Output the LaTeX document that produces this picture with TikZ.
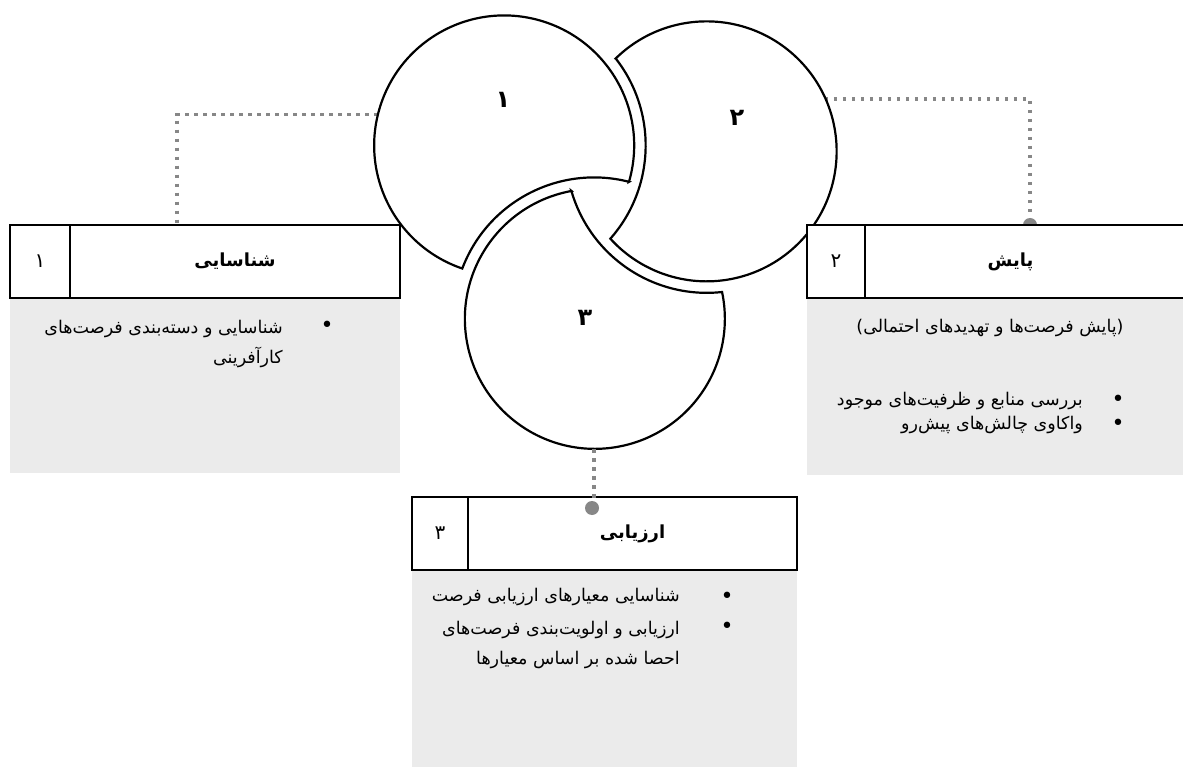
\documentclass[tikz,border=0pt]{standalone}
\usepackage{fontspec}
\newfontfamily\fa[Script=Arabic]{DejaVu Sans}
\TeXXeTstate=1
\usetikzlibrary{%
  backgrounds,
  positioning
}
\definecolor{dotgray}{RGB}{135,135,135}
\definecolor{panelgray}{RGB}{235,235,235}
\newcommand{\rtl}[1]{\beginR #1\endR}

\tikzset{
  headcell/.style={draw=black, line width=2pt, fill=white, minimum height=73pt,
                   inner sep=0pt, outer sep=0pt},
  panel/.style={fill=panelgray, inner sep=0pt, outer sep=0pt, anchor=north west},
  hub/.style={circle, minimum size=260pt, inner sep=0pt, outer sep=0pt},
  lobe/.style={draw=black, line width=2.2pt, fill=white},
  link/.style={draw=dotgray, line width=3.5pt, dash pattern=on 3.5pt off 5.5pt},
  linkdot/.style={circle, fill=dotgray, minimum size=14pt, inner sep=0pt},
  numfont/.style={font=\fa\fontsize{20}{22}\selectfont},
  titlefont/.style={font=\fa\bfseries\fontsize{18}{20}\selectfont},
  lobefont/.style={font=\fa\bfseries\fontsize{24}{26}\selectfont, inner sep=0pt},
  itemtext/.style={font=\fa\fontsize{17.5}{30}\selectfont, align=right, inner sep=0pt},
  bulletmark/.style={font=\fa\fontsize{22}{22}\selectfont, inner sep=0pt},
}

\begin{document}
\begin{tikzpicture}[x=1pt, y=1pt]
  \useasboundingbox (0,0) rectangle (1183,-767) ;

  % the three bitten circles
  \node [hub] (c1) at (504,-146) {} ;
  \node [hub] (c2) at (706,-152) {} ;
  \node [hub] (c3) at (594,-319) {} ;

  \draw [lobe] (c1.-16.25) arc [start angle=-16.25, end angle=251.21, radius=130pt]
                           arc [start angle=159.27, end angle=75.69, radius=141pt] -- cycle ;
  \draw [lobe] (c2.134.40) arc [start angle=134.40, end angle=-137.80, radius=130pt]
                           arc [start angle=-41.44, end angle=38.04, radius=141pt] -- cycle ;
  \draw [lobe] (c3.100.39) arc [start angle=100.39, end angle=371.91, radius=130pt]
                           arc [start angle=276.19, end angle=196.11, radius=141pt] -- cycle ;

  \node [lobefont] (l1) at (503,-100) {۱} ;
  \node [lobefont] (l2) at (737,-118) {۲} ;
  \node [lobefont] (l3) at (585,-318) {۳} ;

  % panels
  \node [panel, minimum width=390pt, minimum height=175pt] (p1) at (10,-298) {} ;
  \node [panel, minimum width=383pt, minimum height=177pt] (p2) at (807,-298) {} ;
  \node [panel, minimum width=385pt, minimum height=200pt] (p3) at (412,-570) {} ;

  % headers
  \node [headcell, numfont, minimum width=60pt, anchor=south west] (n1) at (p1.north west) {۱} ;
  \node [headcell, titlefont, minimum width=330pt, right=0pt of n1] (h1) {\rtl{شناسایی}} ;
  \node [headcell, numfont, minimum width=58pt, anchor=south west] (n2) at (p2.north west) {۲} ;
  \node [headcell, titlefont, minimum width=325pt, right=0pt of n2] (h2) {\rtl{پایش}\hspace*{34pt}} ;
  \node [headcell, numfont, minimum width=56pt, anchor=south west] (n3) at (p3.north west) {۳} ;
  \node [headcell, titlefont, minimum width=329pt, right=0pt of n3] (h3) {\rtl{ارزیابی}} ;

  % connectors
  \begin{scope}[on background layer]
    \fill [white] (0,0) rectangle (1183,-767) ;
    \draw [link] (c1.166) -| ([xshift=107pt]h1.north west) ;
    \node [linkdot] (d2) at ([xshift=165pt]h2.north west) {} ;
    \draw [link] (c2.24) -| (d2) ;
  \end{scope}
  \node [linkdot] (d3) at ([xshift=124pt, yshift=-11pt]h3.north west) {} ;
  \draw [link] (c3.south) -- (c3.south |- d3.north) ;

  % panel texts
  \node [bulletmark] (u1) at (327,-327) {•} ;
  \node [itemtext, anchor=north east] (t1) at (283,-320)
        {\rtl{شناسایی و دسته^^^^200cبندی فرصت^^^^200cهای}\\\rtl{کارآفرینی}} ;

  \node [itemtext] (q2) at (990,-328) {\rtl{(پایش فرصت^^^^200cها و تهدیدهای احتمالی)}} ;
  \node [bulletmark] (u21) at (1118,-401) {•} ;
  \node [bulletmark] (u22) at (1118,-425) {•} ;
  \node [itemtext, anchor=east] (t21) at (1083,-401) {\rtl{بررسی منابع و ظرفیت^^^^200cهای موجود}} ;
  \node [itemtext, anchor=east] (t22) at (1083,-425) {\rtl{واکاوی چالش^^^^200cهای پیش^^^^200cرو}} ;

  \node [bulletmark] (u31) at (727,-598) {•} ;
  \node [bulletmark] (u32) at (727,-628) {•} ;
  \node [itemtext, anchor=east] (t31) at (680,-597) {\rtl{شناسایی معیارهای ارزیابی فرصت}} ;
  \node [itemtext, anchor=north east] (t32) at (680,-621)
        {\rtl{ارزیابی و اولویت^^^^200cبندی فرصت^^^^200cهای}\\\rtl{احصا شده بر اساس معیارها}} ;
\end{tikzpicture}
\end{document}
